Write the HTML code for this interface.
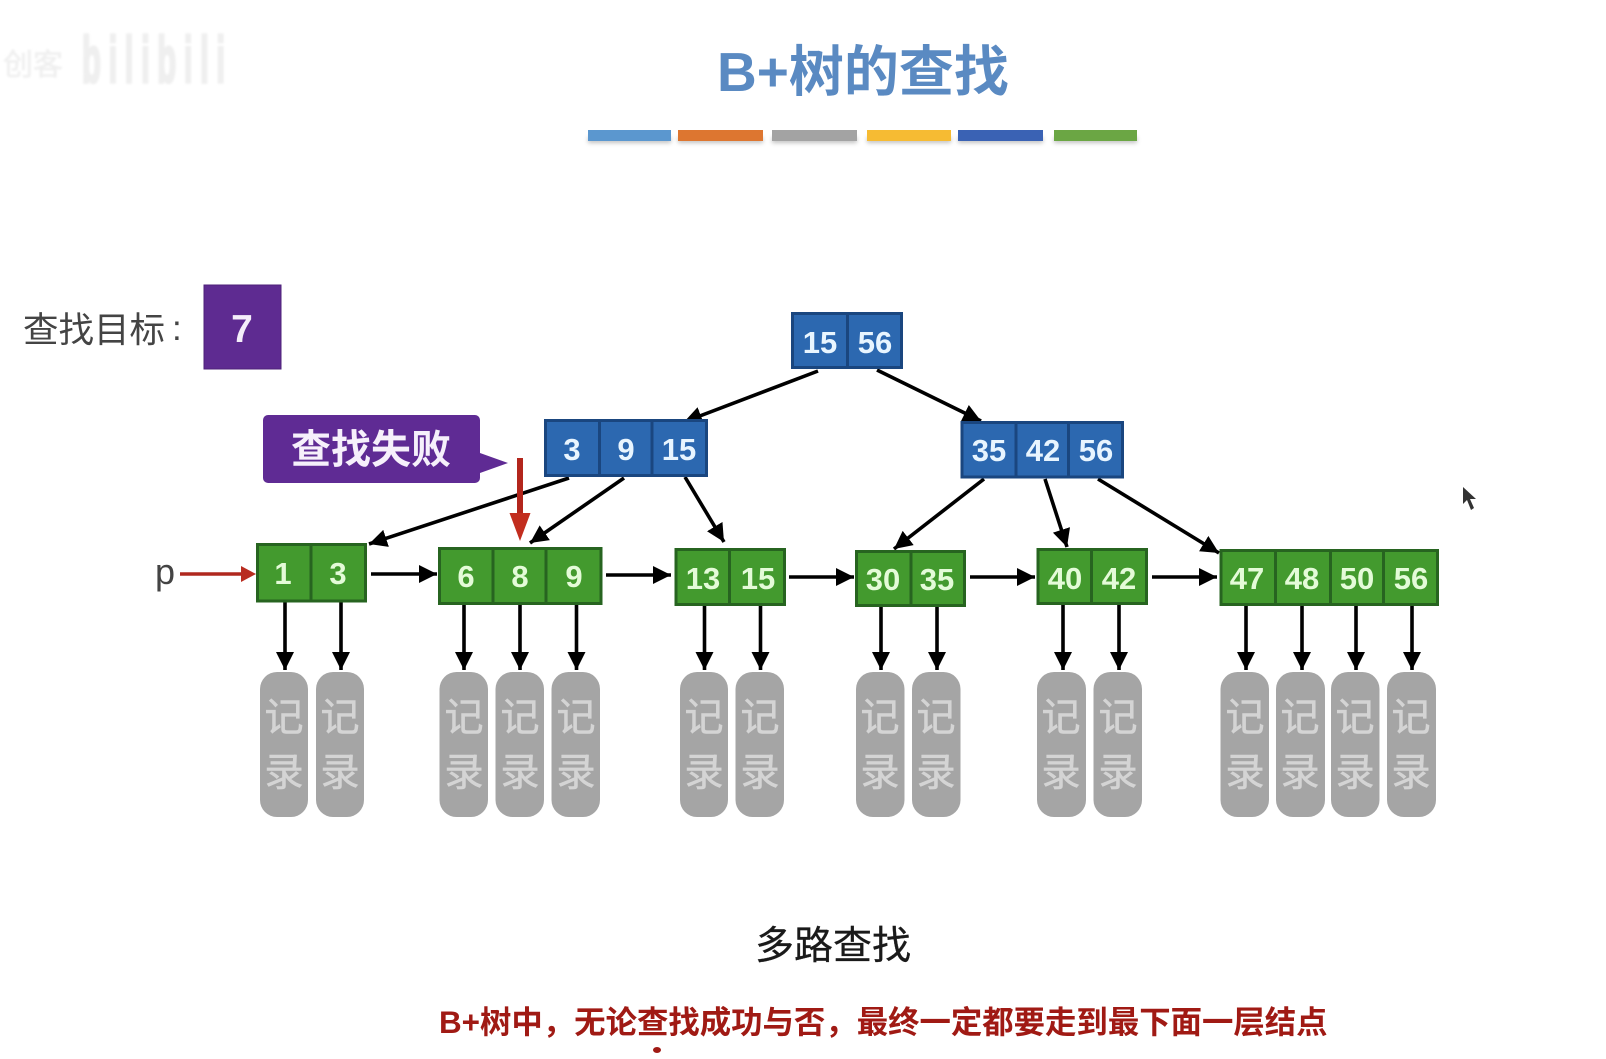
<!DOCTYPE html>
<html lang="zh"><head><meta charset="utf-8"><title>B+树的查找</title>
<style>
html,body{margin:0;padding:0;background:#fff}
svg{display:block}
text{font-family:"Liberation Sans","Noto Sans CJK SC",sans-serif}
.b rect,.b line{fill:#2c68b0;stroke:#1a467f;stroke-width:3}
.g rect,.g line{fill:#439a2e;stroke:#276420;stroke-width:3}
.b text{fill:#e8f5ff;font-size:31px;font-weight:bold;text-anchor:middle}
.g text{fill:#e4fbd8;font-size:31px;font-weight:bold;text-anchor:middle}
.a line{stroke:#000;stroke-width:3.6;fill:none}
.r rect{fill:#a5a5a5}
.r text{fill:#d4d4d4;stroke:#d4d4d4;stroke-width:.6;font-size:39px;text-anchor:middle}
</style></head><body>
<svg width="1606" height="1059" viewBox="0 0 1606 1059" xmlns="http://www.w3.org/2000/svg">
<defs>
<marker id="m" markerUnits="userSpaceOnUse" markerWidth="19" markerHeight="18" refX="18" refY="9" orient="auto"><path d="M0 0L18 9L0 18Z" fill="#000"/></marker>
<filter id="sh" x="-10%" y="-50%" width="120%" height="250%"><feGaussianBlur stdDeviation="2"/></filter>
<filter id="wm"><feGaussianBlur stdDeviation="1"/></filter>
</defs>
<rect width="1606" height="1059" fill="#fff"/>

<!-- watermark -->
<g filter="url(#wm)" fill="#efefef" stroke="#efefef">
<text x="3" y="75" font-size="30" stroke-width=".5">创</text><text x="33" y="75" font-size="30" stroke-width=".5">客</text>
<text transform="translate(82,82) scale(1,2.1)" font-size="31" font-weight="bold" stroke-width="1.6" textLength="143">bilibili</text>
</g>

<!-- title -->
<text x="717" y="91" font-size="55" font-weight="bold" fill="#5a8ac2">B+树的查找</text>
<g opacity=".45" filter="url(#sh)" fill="#777"><rect x="588" y="137" width="83" height="6"/><rect x="678" y="137" width="85" height="6"/><rect x="772" y="137" width="85" height="6"/><rect x="867" y="137" width="84" height="6"/><rect x="958" y="137" width="85" height="6"/><rect x="1054" y="137" width="83" height="6"/></g>
<rect x="588" y="130" width="83" height="11" fill="#5b97cf"/>
<rect x="678" y="130" width="85" height="11" fill="#dd7630"/>
<rect x="772" y="130" width="85" height="11" fill="#a3a3a3"/>
<rect x="867" y="130" width="84" height="11" fill="#f6bb33"/>
<rect x="958" y="130" width="85" height="11" fill="#3a62b4"/>
<rect x="1054" y="130" width="83" height="11" fill="#6ba644"/>

<!-- target -->
<text x="23" y="342" font-size="35.500" fill="#444">查找目标</text>
<text x="172" y="340" font-size="35" fill="#444">:</text>
<rect x="204" y="285" width="77" height="84" fill="#5e2b91" stroke="#4d2279" stroke-width="1"/>
<text x="242" y="342" font-size="39" font-weight="bold" fill="#f4eefa" text-anchor="middle">7</text>

<!-- tree arrows -->
<g class="a">
<line x1="818" y1="371" x2="684" y2="422" marker-end="url(#m)"/>
<line x1="877" y1="370" x2="981" y2="421" marker-end="url(#m)"/>
<line x1="569" y1="478" x2="369" y2="544" marker-end="url(#m)"/>
<line x1="624" y1="478" x2="530" y2="543" marker-end="url(#m)"/>
<line x1="685" y1="477" x2="724" y2="542" marker-end="url(#m)"/>
<line x1="984" y1="479" x2="894" y2="549" marker-end="url(#m)"/>
<line x1="1045" y1="479" x2="1067" y2="547" marker-end="url(#m)"/>
<line x1="1098" y1="479" x2="1219" y2="553" marker-end="url(#m)"/>
<line x1="371" y1="574" x2="437" y2="574" marker-end="url(#m)"/>
<line x1="606" y1="575" x2="671" y2="575" marker-end="url(#m)"/>
<line x1="789" y1="577" x2="854" y2="577" marker-end="url(#m)"/>
<line x1="970" y1="577" x2="1035" y2="577" marker-end="url(#m)"/>
<line x1="1152" y1="577" x2="1217" y2="577" marker-end="url(#m)"/>
<line x1="285" y1="602" x2="285" y2="670" marker-end="url(#m)"/>
<line x1="341" y1="602" x2="341" y2="670" marker-end="url(#m)"/>
<line x1="464" y1="605" x2="464" y2="670" marker-end="url(#m)"/>
<line x1="520" y1="605" x2="520" y2="670" marker-end="url(#m)"/>
<line x1="576.500" y1="605" x2="576.500" y2="670" marker-end="url(#m)"/>
<line x1="704.500" y1="606" x2="704.500" y2="670" marker-end="url(#m)"/>
<line x1="760.500" y1="606" x2="760.500" y2="670" marker-end="url(#m)"/>
<line x1="881" y1="607" x2="881" y2="670" marker-end="url(#m)"/>
<line x1="937" y1="607" x2="937" y2="670" marker-end="url(#m)"/>
<line x1="1063" y1="605" x2="1063" y2="670" marker-end="url(#m)"/>
<line x1="1119" y1="605" x2="1119" y2="670" marker-end="url(#m)"/>
<line x1="1246" y1="606" x2="1246" y2="670" marker-end="url(#m)"/>
<line x1="1302" y1="606" x2="1302" y2="670" marker-end="url(#m)"/>
<line x1="1356" y1="606" x2="1356" y2="670" marker-end="url(#m)"/>
<line x1="1412" y1="606" x2="1412" y2="670" marker-end="url(#m)"/>
</g>

<!-- blue nodes -->
<g class="b">
<rect x="792.500" y="313.500" width="109" height="54"/><line x1="847.500" y1="312" x2="847.500" y2="369"/>
<text x="820" y="353">15</text><text x="875" y="353">56</text>
<rect x="545.500" y="420.500" width="161" height="55"/><line x1="599.500" y1="419" x2="599.500" y2="477"/><line x1="652" y1="419" x2="652" y2="477"/>
<text x="572" y="460">3</text><text x="626" y="460">9</text><text x="679" y="460">15</text>
<rect x="962" y="422.500" width="160.500" height="54.500"/><line x1="1016" y1="421" x2="1016" y2="478"/><line x1="1068.500" y1="421" x2="1068.500" y2="478"/>
<text x="989" y="461">35</text><text x="1043" y="461">42</text><text x="1096" y="461">56</text>
</g>

<!-- green nodes -->
<g class="g">
<rect x="257.500" y="544.500" width="108" height="56.500"/><line x1="311" y1="543" x2="311" y2="602"/>
<text x="283" y="584">1</text><text x="338" y="584">3</text>
<rect x="439.500" y="548.500" width="161.500" height="55"/><line x1="493" y1="547" x2="493" y2="605"/><line x1="546" y1="547" x2="546" y2="605"/>
<text x="466" y="587">6</text><text x="520" y="587">8</text><text x="574" y="587">9</text>
<rect x="676" y="549.500" width="108.500" height="55"/><line x1="729.500" y1="548" x2="729.500" y2="606"/>
<text x="703" y="589">13</text><text x="758" y="589">15</text>
<rect x="856.500" y="551.500" width="108" height="54"/><line x1="911" y1="550" x2="911" y2="607"/>
<text x="883" y="590">30</text><text x="937" y="590">35</text>
<rect x="1038" y="549.500" width="108.500" height="54"/><line x1="1091.500" y1="548" x2="1091.500" y2="605"/>
<text x="1065" y="589">40</text><text x="1119" y="589">42</text>
<rect x="1221" y="550.500" width="216.500" height="54"/><line x1="1275.500" y1="549" x2="1275.500" y2="606"/><line x1="1330.500" y1="549" x2="1330.500" y2="606"/><line x1="1383.500" y1="549" x2="1383.500" y2="606"/>
<text x="1247" y="589">47</text><text x="1302" y="589">48</text><text x="1357" y="589">50</text><text x="1411" y="589">56</text>
</g>

<!-- callout -->
<path d="M268 415H475a5 5 0 0 1 5 5V453L508 463L480 473V478a5 5 0 0 1-5 5H268a5 5 0 0 1-5-5V420a5 5 0 0 1 5-5Z" fill="#5f2b94"/>
<text x="291" y="463" font-size="40" font-weight="bold" fill="#f6f0fb">查找失败</text>

<!-- red arrows -->
<line x1="520" y1="458" x2="520" y2="515" stroke="#b3261c" stroke-width="6"/>
<path d="M509.500 513H530.500L520 541Z" fill="#c22d1e"/>
<line x1="180" y1="574" x2="243" y2="574" stroke="#b0281e" stroke-width="3.400"/>
<path d="M241 566L256 574L241 582Z" fill="#b92c20"/>
<text x="155" y="584" font-size="36" fill="#444">p</text>

<!-- records -->
<g class="r">
<rect x="260" y="672" width="48" height="145" rx="17"/><text x="284" y="731">记</text><text x="284" y="786">录</text>
<rect x="316" y="672" width="48" height="145" rx="17"/><text x="340" y="731">记</text><text x="340" y="786">录</text>
<rect x="439.500" y="672" width="48.500" height="145" rx="17"/><text x="464" y="731">记</text><text x="464" y="786">录</text>
<rect x="495.500" y="672" width="48.500" height="145" rx="17"/><text x="520" y="731">记</text><text x="520" y="786">录</text>
<rect x="551.500" y="672" width="48.500" height="145" rx="17"/><text x="576" y="731">记</text><text x="576" y="786">录</text>
<rect x="680" y="672" width="48" height="145" rx="17"/><text x="704" y="731">记</text><text x="704" y="786">录</text>
<rect x="735.500" y="672" width="48.500" height="145" rx="17"/><text x="760" y="731">记</text><text x="760" y="786">录</text>
<rect x="856" y="672" width="48.500" height="145" rx="17"/><text x="880" y="731">记</text><text x="880" y="786">录</text>
<rect x="912" y="672" width="48.500" height="145" rx="17"/><text x="936" y="731">记</text><text x="936" y="786">录</text>
<rect x="1037" y="672" width="49" height="145" rx="17"/><text x="1061" y="731">记</text><text x="1061" y="786">录</text>
<rect x="1093.500" y="672" width="48.500" height="145" rx="17"/><text x="1118" y="731">记</text><text x="1118" y="786">录</text>
<rect x="1220.500" y="672" width="48.500" height="145" rx="17"/><text x="1245" y="731">记</text><text x="1245" y="786">录</text>
<rect x="1276" y="672" width="49" height="145" rx="17"/><text x="1300" y="731">记</text><text x="1300" y="786">录</text>
<rect x="1331" y="672" width="48.500" height="145" rx="17"/><text x="1355" y="731">记</text><text x="1355" y="786">录</text>
<rect x="1387" y="672" width="49" height="145" rx="17"/><text x="1411" y="731">记</text><text x="1411" y="786">录</text>
</g>

<!-- cursor -->
<path d="M1463 487L1463 504L1467 500L1471 510L1474 508L1470 499L1476 499Z" fill="#333"/>

<!-- bottom -->
<text x="755" y="959" font-size="39" fill="#1a1a1a" stroke="#1a1a1a" stroke-width=".3">多路查找</text>
<text x="439" y="1033" font-size="31.400" font-weight="bold" fill="#a01a14">B+树中，无论查找成功与否，最终一定都要走到最下面一层结点</text>
<ellipse cx="657" cy="1050" rx="4" ry="3" fill="#a01a14"/>
</svg>
</body></html>
